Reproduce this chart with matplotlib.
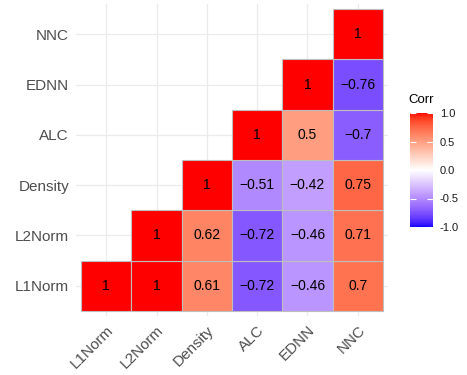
import matplotlib
matplotlib.use("Agg")
import matplotlib.pyplot as plt
import numpy as np
from matplotlib.colors import ListedColormap, Normalize
from matplotlib.cm import ScalarMappable

plt.rcParams["font.family"] = ["Liberation Sans", "DejaVu Sans"]

# variables, bottom-to-top on y and left-to-right on x
names = ["L1Norm", "L2Norm", "Density", "ALC", "EDNN", "NNC"]

# lower triangle of the correlation matrix, one list per row (row var vs. columns from itself onward)
row_l1norm = [1, 1, 0.61, -0.72, -0.46, 0.7]
row_l2norm = [1, 0.62, -0.72, -0.46, 0.71]
row_density = [1, -0.51, -0.42, 0.75]
row_alc = [1, 0.5, -0.7]
row_ednn = [1, -0.76]
row_nnc = [1]
rows = [row_l1norm, row_l2norm, row_density, row_alc, row_ednn, row_nnc]

legend_ticks = [-1.0, -0.5, 0.0, 0.5, 1.0]


# ---- blue/white/red gradient interpolated in CIELAB ----
_WHITE = np.array([0.95047, 1.0, 1.08883])
_M = np.array([[0.4124564, 0.3575761, 0.1804375],
               [0.2126729, 0.7151522, 0.0721750],
               [0.0193339, 0.1191920, 0.9503041]])


def rgb2lab(rgb):
    c = np.asarray(rgb, float)
    lin = np.where(c <= 0.04045, c / 12.92, ((c + 0.055) / 1.055) ** 2.4)
    xyz = _M @ lin / _WHITE
    d = 6 / 29
    f = np.where(xyz > d ** 3, np.cbrt(xyz), xyz / (3 * d * d) + 4 / 29)
    return np.array([116 * f[1] - 16, 500 * (f[0] - f[1]), 200 * (f[1] - f[2])])


def lab2rgb(lab):
    L, a, b = lab
    fy = (L + 16) / 116
    f = np.array([fy + a / 500, fy, fy - b / 200])
    d = 6 / 29
    xyz = np.where(f > d, f ** 3, 3 * d * d * (f - 4 / 29)) * _WHITE
    lin = np.linalg.solve(_M, xyz)
    c = np.where(lin <= 0.0031308, 12.92 * lin, 1.055 * np.clip(lin, 0, None) ** (1 / 2.4) - 0.055)
    return np.clip(c, 0, 1)


lo, mid, hi = rgb2lab([0, 0, 1]), rgb2lab([1, 1, 1]), rgb2lab([1, 0, 0])
cols = []
for t in np.linspace(0, 1, 256):
    if t < 0.5:
        lab = lo + (mid - lo) * (t / 0.5)
    else:
        lab = mid + (hi - mid) * ((t - 0.5) / 0.5)
    cols.append(lab2rgb(lab))
cmap = ListedColormap(cols)
norm = Normalize(-1, 1)

n = len(names)
fig = plt.figure(figsize=(4.67, 3.75), dpi=100)
ax = fig.add_axes([76 / 467, 59 / 375, 312 / 467, 312 / 375])
ax.set_facecolor("white")
for k in range(n):
    ax.axhline(k, color="#EBEBEB", lw=0.9, zorder=0)
    ax.axvline(k, color="#EBEBEB", lw=0.9, zorder=0)

# one tile per lower-triangle entry
for i, r in enumerate(rows):
    for k, v in enumerate(r):
        j = i + k
        ax.add_patch(plt.Rectangle((j - 0.5, i - 0.5), 1, 1, fc=cmap(norm(v)),
                                   ec="#BEBEBE", lw=0.8, zorder=1))
        s = ("%g" % v).replace("-", "\u2212")
        ax.text(j, i, s, ha="center", va="center", fontsize=10, color="black", zorder=2)

ax.set_xlim(-0.6, n - 0.4)
ax.set_ylim(-0.6, n - 0.4)
ax.set_xticks(range(n))
ax.set_yticks(range(n))
ax.set_xticklabels(names, rotation=45, ha="right", rotation_mode="anchor")
ax.set_yticklabels(names)
ax.tick_params(length=0, labelsize=11, labelcolor="#4D4D4D", pad=5)
for sp in ax.spines.values():
    sp.set_visible(False)

# ---- legend bar ----
cax = fig.add_axes([410 / 467, (375 - 227) / 375, 23 / 467, 114 / 375])
cb = fig.colorbar(ScalarMappable(norm=norm, cmap=cmap), cax=cax, ticks=legend_ticks)
cb.outline.set_visible(False)
cb.ax.set_yticklabels(["%.1f" % t for t in legend_ticks])
cb.ax.tick_params(direction="in", color="white", length=4, width=0.8,
                  left=True, right=True, labelsize=8, labelcolor="#1A1A1A", pad=5)
fig.text(408 / 467, 1 - 100 / 375, "Corr", fontsize=9.5, ha="left", va="center", color="black")

fig.savefig("out.png", dpi=100)
